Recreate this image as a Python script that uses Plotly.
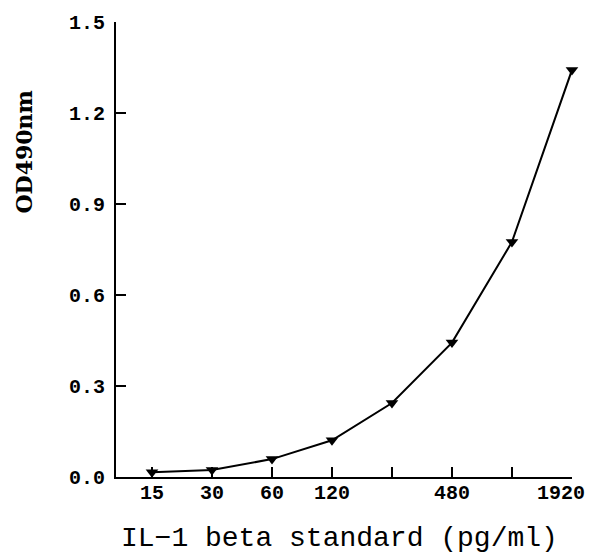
import math
import plotly.graph_objects as go

# IL-1 beta standard curve
concentration = [15, 30, 60, 120, 240, 480, 960, 1920]
od490 = [0.016, 0.023, 0.059, 0.121, 0.244, 0.443, 0.775, 1.342]

x_tickvals = [15, 30, 60, 120, 240, 480, 960, 1920]
x_ticktext = ["15", "30", "60", "120", "", "480", "", "1920"]
y_tickvals = [0.0, 0.3, 0.6, 0.9, 1.2, 1.5]
y_ticktext = ["0.0", "0.3", "0.6", "0.9", "1.2", "1.5"]

tick_font = dict(family="Liberation Mono", size=20, color="black", weight="bold")

fig = go.Figure()
fig.add_trace(go.Scatter(
    x=concentration, y=od490,
    mode="lines+markers",
    line=dict(color="black", width=2),
    marker=dict(symbol="triangle-down", size=11, color="black"),
    cliponaxis=False,
    showlegend=False,
))

# x tick labels placed as annotations so the last one can sit inside the page
annotations = []
for v, t in zip(x_tickvals, x_ticktext):
    if not t:
        continue
    annotations.append(dict(
        text=t, xref="x", yref="paper", x=math.log10(v), y=0,
        xanchor="center", yanchor="middle", yshift=-16,
        xshift=-11 if v == x_tickvals[-1] else 0,
        showarrow=False, font=tick_font,
    ))

annotations += [
    dict(text="IL\u22121 beta standard (pg/ml)", xref="paper", yref="paper",
         x=0.491, y=0, xanchor="center", yanchor="middle", yshift=-61,
         showarrow=False,
         font=dict(family="Liberation Mono", size=28, color="black")),
    dict(text="OD490nm", xref="paper", yref="paper",
         x=0, y=0.713, xanchor="center", yanchor="middle", xshift=-92,
         textangle=-90, showarrow=False,
         font=dict(family="DejaVu Serif", size=22, color="black", weight="bold")),
]

fig.update_layout(
    width=589, height=555,
    margin=dict(l=116, r=17, t=20, b=78),
    paper_bgcolor="white", plot_bgcolor="white",
    xaxis=dict(
        type="log", range=[0.99547, 3.28345],
        tickvals=x_tickvals, showticklabels=False,
        ticks="inside", ticklen=10, tickwidth=1.5, tickcolor="black",
        showline=True, linecolor="black", linewidth=2,
        showgrid=False, zeroline=False,
    ),
    yaxis=dict(
        range=[0, 1.5],
        tickvals=y_tickvals, ticktext=y_ticktext,
        ticks="inside", ticklen=10, tickwidth=1.5, tickcolor="black",
        showline=True, linecolor="black", linewidth=2,
        showgrid=False, zeroline=False, tickfont=tick_font,
        ticklabelstandoff=5,
    ),
    annotations=annotations,
)

fig.write_html("out.html")
